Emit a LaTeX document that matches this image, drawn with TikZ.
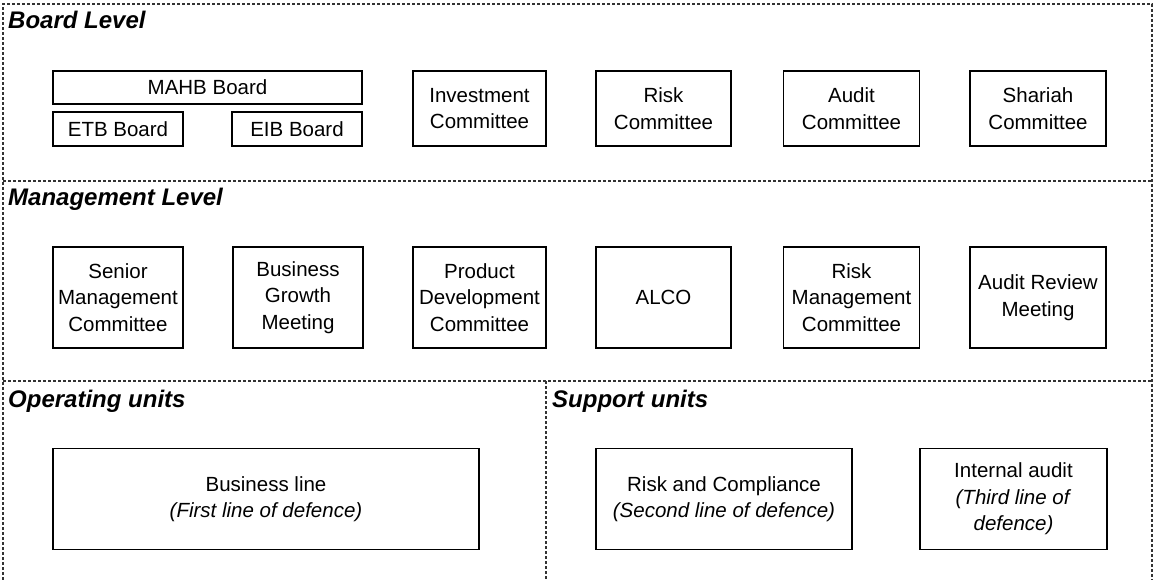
\documentclass[tikz,border=0pt]{standalone}
\usepackage{fontspec}
\setmainfont{Liberation Sans}
\tikzset{
  unitbox/.style={draw, line width=1.7pt, align=center, inner sep=0pt,
    font=\fontsize{20.5}{26.5}\selectfont},
  leveltitle/.style={anchor=base west, inner sep=0pt,
    font=\fontsize{24}{28}\selectfont\bfseries\itshape},
  framelines/.style={line width=1.3pt, black!80, dash pattern=on 3pt off 2pt}
}
\begin{document}
\begin{tikzpicture}[x=1pt,y=-1pt]
  \useasboundingbox (0,0) rectangle (1157,580);
  % dashed frames
  \draw[framelines] (3,580) -- (3,4) -- (1152,4) -- (1152,580);
  \draw[framelines] (3,181) -- (1152,181);
  \draw[framelines] (3,381) -- (1152,381);
  \draw[framelines] (546,381) -- (546,580);
  % titles
  \node[leveltitle] (boardtitle) at (8,29) {Board Level};
  \node[leveltitle] (mgmttitle) at (8,206) {Management Level};
  \node[leveltitle] (optitle) at (8,407) {Operating units};
  \node[leveltitle] (suptitle) at (552,407) {Support units};
  % board level
  \node[unitbox, minimum width=309pt, minimum height=33pt] (mahb) at (207.5,87.5) {MAHB Board};
  \node[unitbox, minimum width=130pt, minimum height=34pt] (etb) at (118,129) {ETB Board};
  \node[unitbox, minimum width=130pt, minimum height=34pt] (eib) at (297,129) {EIB Board};
  \node[unitbox, minimum width=133pt, minimum height=75pt] (invest) at (479.5,108.5) {Investment\\Committee};
  \node[unitbox, minimum width=135pt, minimum height=75pt] (riskc) at (663.5,108.5) {Risk\\Committee};
  \node[unitbox, minimum width=136pt, minimum height=75pt] (auditc) at (851.5,108.5) {Audit\\Committee};
  \node[unitbox, minimum width=136pt, minimum height=75pt] (shariah) at (1038,108.5) {Shariah\\Committee};
  % management level
  \node[unitbox, minimum width=130pt, minimum height=101pt] (senior) at (118,297.5) {Senior\\Management\\Committee};
  \node[unitbox, minimum width=130pt, minimum height=101pt] (growth) at (298,297.5) {Business\\Growth\\Meeting};
  \node[unitbox, minimum width=133pt, minimum height=101pt] (product) at (479.5,297.5) {Product\\Development\\Committee};
  \node[unitbox, minimum width=135pt, minimum height=101pt] (alco) at (663.5,297.5) {ALCO};
  \node[unitbox, minimum width=136pt, minimum height=101pt] (riskmgmt) at (851.5,297.5) {Risk\\Management\\Committee};
  \node[unitbox, minimum width=136pt, minimum height=101pt] (auditrev) at (1038,297.5) {Audit Review\\Meeting};
  % units
  \node[unitbox, minimum width=426pt, minimum height=101pt] (bizline) at (266,499) {Business line\\\textit{(First line of defence)}};
  \node[unitbox, minimum width=256pt, minimum height=101pt] (riskcomp) at (724,499) {Risk and Compliance\\\textit{(Second line of defence)}};
  \node[unitbox, minimum width=187pt, minimum height=101pt] (intaudit) at (1013.5,499) {Internal audit\\\textit{(Third line of}\\\textit{defence)}};
\end{tikzpicture}
\end{document}
